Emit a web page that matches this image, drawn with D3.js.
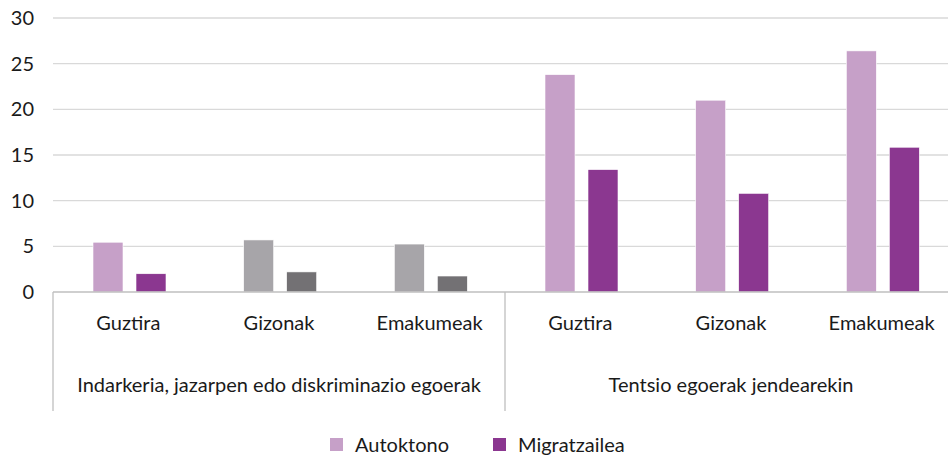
<!DOCTYPE html>
<html>
<head>
<meta charset="utf-8">
<script src="https://cdn.jsdelivr.net/npm/d3@7"></script>
<style>
  body { margin: 0; background: #fff; }
  text { font-family: Lato, "Open Sans", sans-serif; fill: #1a1a1a; }
</style>
</head>
<body>
<script>
// ---- data ----
var groups = ["Indarkeria, jazarpen edo diskriminazio egoerak", "Tentsio egoerak jendearekin"];
var subgroups = ["Guztira", "Gizonak", "Emakumeak"];
var series = ["Autoktono", "Migratzailea"];
var autoktono = [5.45, 5.7, 5.25, 23.8, 21.0, 26.4];
var migratzailea = [2.0, 2.2, 1.75, 13.4, 10.8, 15.85];
var yTicks = [0, 5, 10, 15, 20, 25, 30];

// colours per category (the first block uses greys for men / women)
var seriesColor = ["#c6a0c8", "#8b3790"];
var barColors = [
  seriesColor,
  ["#a7a5a9", "#737174"],
  ["#a7a5a9", "#737174"],
  seriesColor, seriesColor, seriesColor
];

var W = 948, H = 462;
// the plot runs a little past the right edge of the picture
var plotLeft = 53, plotRight = 957, plotTop = 18, plotBottom = 292;

var svg = d3.select("body").append("svg")
    .attr("width", W).attr("height", H);

// one band per (group, subgroup) pair
var cats = [];
groups.forEach(function(g, gi) {
  subgroups.forEach(function(s) { cats.push({ group: gi, label: s }); });
});

var x = d3.scaleBand().domain(d3.range(cats.length)).range([plotLeft, plotRight]);
var x1 = d3.scaleBand().domain(series).range([40, 113]).paddingInner(0.3023);
var y = d3.scaleLinear().domain([0, 30]).range([plotBottom, plotTop]);

// gridlines
svg.append("g").selectAll("line")
  .data(yTicks.filter(function(d) { return d > 0; }))
  .enter().append("line")
  .attr("x1", plotLeft).attr("x2", plotRight)
  .attr("y1", function(d) { return y(d); })
  .attr("y2", function(d) { return y(d); })
  .attr("stroke", "#d9d9d9").attr("stroke-width", 1.3);

// y labels
svg.append("g").selectAll("text")
  .data(yTicks).enter().append("text")
  .attr("x", 34)
  .attr("y", function(d) { return y(d); })
  .attr("dy", "0.35em")
  .attr("text-anchor", "end")
  .style("font-size", "20px")
  .text(function(d) { return d; });

// bars
var rows = cats.map(function(c, i) {
  return [
    { i: i, key: series[0], value: autoktono[i], color: barColors[i][0] },
    { i: i, key: series[1], value: migratzailea[i], color: barColors[i][1] }
  ];
});

svg.append("g").selectAll("g")
  .data(rows).enter().append("g")
  .attr("transform", function(d, i) { return "translate(" + x(i) + ",0)"; })
  .selectAll("rect")
  .data(function(d) { return d; })
  .enter().append("rect")
  .attr("x", function(d) { return x1(d.key); })
  .attr("y", function(d) { return y(d.value); })
  .attr("width", x1.bandwidth())
  .attr("height", function(d) { return y(0) - y(d.value); })
  .attr("fill", function(d) { return d.color; })
  .attr("stroke", "#fff").attr("stroke-width", 0.6);

// baseline
svg.append("line")
  .attr("x1", plotLeft).attr("x2", plotRight)
  .attr("y1", plotBottom).attr("y2", plotBottom)
  .attr("stroke", "#bfbfbf").attr("stroke-width", 1.3);

// group separators
var sepX = [plotLeft, x(3), plotRight];
svg.append("g").selectAll("line")
  .data(sepX).enter().append("line")
  .attr("x1", function(d) { return d; }).attr("x2", function(d) { return d; })
  .attr("y1", plotBottom).attr("y2", 411)
  .attr("stroke", "#bfbfbf").attr("stroke-width", 1.3);

// category labels
svg.append("g").selectAll("text")
  .data(cats).enter().append("text")
  .attr("x", function(d, i) { return x(i) + x.bandwidth() / 2; })
  .attr("y", 323)
  .attr("dy", "0.35em")
  .attr("text-anchor", "middle")
  .style("font-size", "20px")
  .text(function(d) { return d.label; });

// group labels
svg.append("g").selectAll("text")
  .data(groups).enter().append("text")
  .attr("x", function(d, gi) { return (x(gi * 3) + x(gi * 3 + 2) + x.bandwidth()) / 2; })
  .attr("y", 385)
  .attr("dy", "0.35em")
  .attr("text-anchor", "middle")
  .style("font-size", "20px")
  .text(function(d) { return d; });

// legend
var legendX = [330, 493];
var legend = svg.append("g").selectAll("g")
  .data(series).enter().append("g")
  .attr("transform", function(d, i) { return "translate(" + legendX[i] + ",438)"; });

legend.append("rect")
  .attr("width", 13).attr("height", 13)
  .attr("fill", function(d, i) { return seriesColor[i]; });

legend.append("text")
  .attr("x", 25).attr("y", 7)
  .attr("dy", "0.35em")
  .style("font-size", "20px")
  .text(function(d) { return d; });
</script>
</body>
</html>
